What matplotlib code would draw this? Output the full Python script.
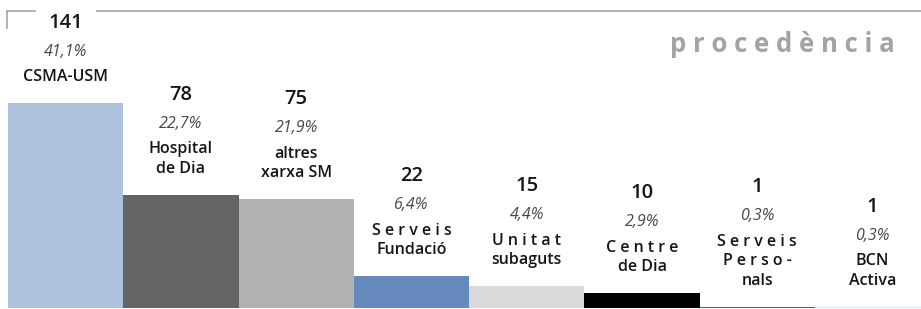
import matplotlib
matplotlib.use('Agg')
import matplotlib.pyplot as plt
from matplotlib.lines import Line2D

# procedencia dels usuaris
categories = [['CSMA-USM'], ['Hospital', 'de Dia'], ['altres', 'xarxa SM'],
              ['S e r v e i s', 'Fundació'], ['U n i t a t', 'subaguts'],
              ['C e n t r e', 'de Dia'], ['S e r v e i s', 'P e r s o -', 'nals'],
              ['BCN', 'Activa']]
counts = [141, 78, 75, 22, 15, 10, 1, 1]
percents = ['41,1%', '22,7%', '21,9%', '6,4%', '4,4%', '2,9%', '0,3%', '0,3%']
colors = ['#adc2dd', '#636466', '#b1b2b4', '#6589bd', '#d8d9db', '#000000', '#3d66aa', '#dce5f1']

plt.rcParams['font.family'] = ['Open Sans', 'DejaVu Sans']

fig = plt.figure(figsize=(9.21, 3.09), dpi=100)
ax = fig.add_axes([8 / 921, 1 / 309, 1 - 8 / 921, 1 - 1 / 309])
x = range(len(counts))
ax.bar(x, counts, width=1.0, color=colors, align='edge')
ax.set_xlim(0, 7.92)
ax.set_ylim(0, 212)
ax.axis('off')

# stacked texts above each bar (offsets in pixels, going up from bar top)
gap = 26
line_h = 19.5
for i, (c, p, lines) in enumerate(zip(counts, percents, categories)):
    xc = i + 0.5
    y = gap
    for ln in reversed(lines):
        ax.annotate(ln, (xc, c), xytext=(0, y), textcoords='offset pixels',
                    ha='center', va='center', fontsize=11.5, fontweight='semibold', color='#151515')
        y += line_h
    y += 6
    ax.annotate(p, (xc, c), xytext=(0, y), textcoords='offset pixels',
                ha='center', va='center', fontsize=11.5, style='italic', color='#474747')
    y += 29
    ax.annotate(str(c), (xc, c), xytext=(0, y), textcoords='offset pixels',
                ha='center', va='center', fontsize=14.5, fontweight='semibold', color='#151515')

# frame line at top
fig.add_artist(Line2D([7 / 921, 35 / 921], [1 - 11 / 309, 1 - 11 / 309], color='#a6a6a6', lw=1.2))
fig.add_artist(Line2D([97 / 921, 1], [1 - 11 / 309, 1 - 11 / 309], color='#a6a6a6', lw=1.2))
fig.add_artist(Line2D([7 / 921, 7 / 921], [1 - 11 / 309, 1 - 28 / 309], color='#a6a6a6', lw=1.2))

fig.text(895 / 921, 1 - 52 / 309, 'p r o c e d è n c i a', ha='right', va='baseline',
         fontsize=18.5, fontweight='bold', color='#a3a3a3')

plt.savefig('out.png', dpi=100)
